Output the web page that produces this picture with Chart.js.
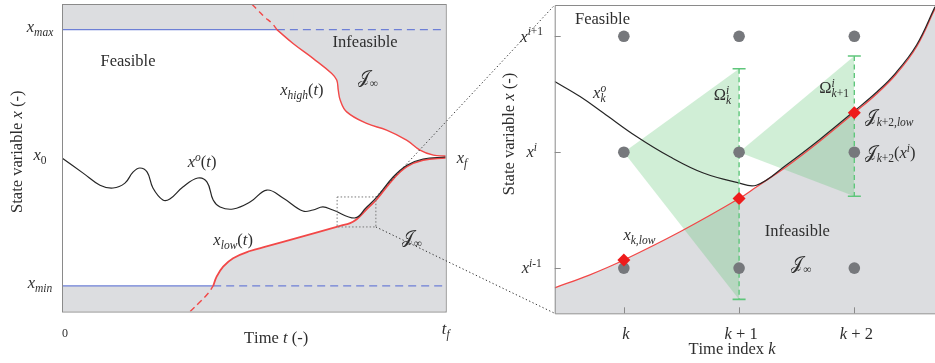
<!DOCTYPE html>
<html>
<head>
<meta charset="utf-8">
<script src="https://cdn.jsdelivr.net/npm/chart.js@4.4.1/dist/chart.umd.min.js"></script>
<style>
  html, body { margin: 0; padding: 0; background: #fff; }
  #wrap { position: relative; width: 935px; height: 363px; overflow: hidden; }
  canvas { position: absolute; left: 0; top: 0; }
</style>
</head>
<body>
<div id="wrap">
  <canvas id="leftChart" width="935" height="363"></canvas>
  <canvas id="rightChart" width="935" height="363"></canvas>
</div>
<script>
// ---- left panel: state x over time t (t_f = 1, x_min = 0, x_max = 1) ----
const X_MAX = 1, X_MIN = 0, X_0 = 0.5, X_F = 0.5;
const optT = [0, 0.055, 0.099, 0.133, 0.164, 0.185, 0.203, 0.222, 0.237, 0.263, 0.281, 0.315, 0.354, 0.378, 0.394, 0.412, 0.446, 0.490, 0.534, 0.576, 0.628, 0.654, 0.680, 0.706, 0.764, 0.792, 0.821, 0.863, 0.899, 0.941, 1.0];
const optX = [0.499, 0.440, 0.393, 0.382, 0.401, 0.444, 0.460, 0.444, 0.382, 0.335, 0.339, 0.386, 0.421, 0.405, 0.335, 0.308, 0.300, 0.327, 0.374, 0.343, 0.292, 0.296, 0.308, 0.296, 0.265, 0.304, 0.347, 0.425, 0.471, 0.495, 0.503];
const highT = [0.560, 0.603, 0.655, 0.703, 0.716, 0.720, 0.725, 0.742, 0.794, 0.846, 0.898, 0.933, 0.968, 1.0];
const highX = [1.0, 0.945, 0.887, 0.829, 0.803, 0.764, 0.725, 0.679, 0.634, 0.608, 0.569, 0.530, 0.510, 0.507];
const highDashT = [0.495, 0.511, 0.529, 0.547, 0.560];
const highDashX = [1.099, 1.075, 1.048, 1.025, 1.0];
const lowT = [0.394, 0.403, 0.420, 0.446, 0.490, 0.533, 0.576, 0.665, 0.725, 0.751, 0.768, 0.792, 0.821, 0.863, 0.899, 0.941, 1.0];
const lowX = [0.0, 0.036, 0.075, 0.108, 0.136, 0.154, 0.172, 0.209, 0.234, 0.245, 0.260, 0.296, 0.339, 0.417, 0.466, 0.491, 0.500];
const lowDashT = [0.334, 0.360, 0.381, 0.394];
const lowDashX = [-0.1, -0.062, -0.029, 0.0];
const zoomBoxT = [0.717, 0.818];
const zoomBoxX = [0.230, 0.347];

// ---- right panel: zoom, time index k and grid states x^i ----
const kTicks = [0, 1, 2];
const kLabels = ['$k$', '$k + 1$', '$k + 2$'];
const iTicks = [-1, 0, 1];
const iLabels = ['$x^{i-1}$', '$x^{i}$', '$x^{i+1}$'];
const lowK = [-0.6, -0.3, 0, 0.5, 1, 1.15, 1.41, 1.7, 2, 2.19, 2.36, 2.54, 2.7];
const lowY = [-1.17, -1.06, -0.93, -0.68, -0.40, -0.30, -0.125, 0.095, 0.34, 0.50, 0.67, 0.91, 1.24];
const optK = [-0.6, -0.38, -0.18, 0.11, 0.40, 0.69, 0.98, 1.15, 1.41, 1.7, 2, 2.19, 2.36, 2.54, 2.7];
const optY = [0.61, 0.48, 0.34, 0.135, -0.04, -0.18, -0.26, -0.285, -0.11, 0.11, 0.355, 0.515, 0.685, 0.925, 1.255];
const lowAtK = [-0.93, -0.40, 0.34];
const omegaK = [1, 2];
const omegaTop = [0.72, 0.83];
const omegaBottom = [-1.27, -0.38];

const GRAY = '#dcdde0', BLUE = '#6d7fd6', RED = '#f24848', BLACK = '#262626';
const GREEN = '#5fc67b', GREEN_FILL = 'rgba(100,200,120,0.3)', DOT = '#76787c', FRAME = '#8a8a8a', TXT = '#2e2e2e';
const SERIF = '"Liberation Serif", "DejaVu Serif", serif';
const FS = 16.5;

const pts = (xs, ys) => xs.map((v, i) => ({ x: v, y: ys[i] }));

// tiny math text: $..$ = math (letters italic), _{..} sub, ^{..} sup
function layoutMath(ctx, str, size) {
  const runs = [];
  let math = false;
  for (let i = 0; i < str.length; ) {
    const c = str[i];
    if (c === '$') { math = !math; i++; continue; }
    if (math && (c === '_' || c === '^')) {
      const e = str.indexOf('}', i + 1);
      runs.push({ t: str.slice(i + 2, e), lvl: c === '_' ? -1 : 1, math: true });
      i = e + 1;
      continue;
    }
    const ch = String.fromCodePoint(str.codePointAt(i));
    runs.push({ t: ch, lvl: 0, math });
    i += ch.length;
  }
  const items = [];
  let x = 0, lastScript = null;
  runs.forEach(r => {
    const fs = r.lvl ? size * 0.7 : size;
    const stacked = r.lvl && lastScript && lastScript.lvl !== r.lvl;
    let cx = stacked ? lastScript.x0 : x;
    const x0 = cx;
    for (const ch of r.t) {
      const it = r.math && /[A-Za-z]/.test(ch);
      const font = (it ? 'italic ' : '') + fs.toFixed(1) + 'px ' + SERIF;
      ctx.font = font;
      items.push({ ch, font, x: cx, dy: r.lvl < 0 ? size * 0.24 : r.lvl > 0 ? -size * 0.38 : 0 });
      cx += ctx.measureText(ch).width;
    }
    if (stacked) { x = Math.max(x, cx); lastScript = null; }
    else { x = cx; lastScript = r.lvl ? { x0, lvl: r.lvl } : null; }
  });
  return { items, width: x };
}

function drawMath(ctx, str, x, y, o = {}) {
  const size = o.size || FS;
  const lay = layoutMath(ctx, str, size);
  const align = o.align || 'center';
  const sx = align === 'left' ? 0 : align === 'right' ? -lay.width : -lay.width / 2;
  ctx.save();
  ctx.translate(x, y);
  if (o.rot) ctx.rotate(o.rot);
  ctx.fillStyle = TXT;
  ctx.textAlign = 'left';
  ctx.textBaseline = 'alphabetic';
  lay.items.forEach(it => { ctx.font = it.font; ctx.fillText(it.ch, sx + it.x, size * 0.32 + it.dy); });
  ctx.restore();
}

const leftNotes = [
  { t: 0.172, x: 0.880, s: 'Feasible' },
  { t: 0.790, x: 0.951, s: 'Infeasible' },
  { t: 0.797, x: 0.814, s: '$𝒥_{∞}$' },
  { t: 0.625, x: 0.767, s: '$x_{high}(t)$' },
  { t: 0.365, x: 0.483, s: '$x^{o}(t)$' },
  { t: 0.446, x: 0.179, s: '$x_{low}(t)$' },
  { t: 0.912, x: 0.187, s: '$𝒥_{∞}$' }
];
const rightNotes = [
  { k: -0.185, y: 1.154, s: 'Feasible' },
  { k: -0.21, y: 0.513, s: '$x^{o}_{k}$' },
  { k: 0.855, y: 0.496, s: '$Ω^{i}_{k}$' },
  { k: 1.825, y: 0.556, s: '$Ω^{i}_{k+1}$' },
  { k: 2.09, y: 0.306, s: '$𝒥_{k+2,low}$', align: 'left' },
  { k: 2.09, y: -0.006, s: '$𝒥_{k+2}(x^{i})$', align: 'left' },
  { k: 0.135, y: -0.716, s: '$x_{k,low}$' },
  { k: 1.505, y: -0.674, s: 'Infeasible' },
  { k: 1.54, y: -0.96, s: '$𝒥_{∞}$' }
];

const leftDecor = {
  id: 'leftDecor',
  afterDraw(chart) {
    const { ctx, chartArea: a, scales: { x, y } } = chart;
    ctx.save();
    ctx.strokeStyle = FRAME;
    ctx.lineWidth = 1;
    ctx.strokeRect(a.left + 0.5, a.top + 0.5, a.right - a.left, a.bottom - a.top);
    ctx.restore();
    [X_MAX, X_0, X_MIN].forEach((v, i) => {
      drawMath(ctx, ['$x_{max}$', '$x_{0}$', '$x_{min}$'][i], a.left - 22, y.getPixelForValue(v) - 3);
    });
    drawMath(ctx, '$x_{f}$', a.right + 11, y.getPixelForValue(X_F), { align: 'left' });
    drawMath(ctx, '0', x.getPixelForValue(0) + 3, a.bottom + 22, { size: 12 });
    drawMath(ctx, '$t_{f}$', x.getPixelForValue(1), a.bottom + 17);
    drawMath(ctx, 'Time $t$ (-)', x.getPixelForValue(0.558), a.bottom + 26);
    drawMath(ctx, 'State variable $x$ (-)', 17, (a.top + a.bottom) / 2 - 6, { rot: -Math.PI / 2 });
    leftNotes.forEach(n => drawMath(ctx, n.s, x.getPixelForValue(n.t), y.getPixelForValue(n.x), { align: n.align }));
  }
};

const curve = { tension: 0.4, pointRadius: 0 };

const leftChart = new Chart(document.getElementById('leftChart'), {
  type: 'line',
  data: {
    datasets: [
      { data: [{ x: 0, y: X_MAX }, { x: highT[1], y: X_MAX }], borderWidth: 0, fill: 'end', backgroundColor: GRAY, order: 20 },
      { data: pts(highT, highX), ...curve, borderWidth: 0, fill: 'end', backgroundColor: GRAY, order: 20 },
      { data: [{ x: 0, y: X_MIN }, { x: lowT[1], y: X_MIN }], borderWidth: 0, fill: 'start', backgroundColor: GRAY, order: 20 },
      { data: pts(lowT, lowX), ...curve, borderWidth: 0, fill: 'start', backgroundColor: GRAY, order: 20 },
      { data: [{ x: 0, y: X_MAX }, { x: highT[0], y: X_MAX }], borderColor: BLUE, borderWidth: 1.3, order: 8 },
      { data: [{ x: highT[0], y: X_MAX }, { x: 1, y: X_MAX }], borderColor: BLUE, borderWidth: 1.3, borderDash: [8, 5], order: 8 },
      { data: [{ x: 0, y: X_MIN }, { x: lowT[0], y: X_MIN }], borderColor: BLUE, borderWidth: 1.3, order: 8 },
      { data: [{ x: lowT[0], y: X_MIN }, { x: 1, y: X_MIN }], borderColor: BLUE, borderWidth: 1.3, borderDash: [8, 5], order: 8 },
      { data: pts(highT, highX), ...curve, borderColor: RED, borderWidth: 1.4, order: 5 },
      { data: pts(highDashT, highDashX), ...curve, borderColor: RED, borderWidth: 1.4, borderDash: [6, 4], order: 5 },
      { data: pts(lowT, lowX), ...curve, borderColor: RED, borderWidth: 1.8, order: 5 },
      { data: pts(lowDashT, lowDashX), ...curve, borderColor: RED, borderWidth: 1.4, borderDash: [6, 4], order: 5 },
      { data: pts(optT, optX), ...curve, borderColor: BLACK, borderWidth: 1.2, order: 2 },
      {
        data: [{ x: zoomBoxT[0], y: zoomBoxX[1] }, { x: zoomBoxT[1], y: zoomBoxX[1] }, { x: zoomBoxT[1], y: zoomBoxX[0] },
               { x: zoomBoxT[0], y: zoomBoxX[0] }, { x: zoomBoxT[0], y: zoomBoxX[1] }],
        borderColor: '#777', borderWidth: 1, borderDash: [1.5, 2], pointRadius: 0, order: 1
      }
    ]
  },
  options: {
    responsive: false,
    animation: false,
    events: [],
    layout: { autoPadding: false, padding: { left: 62, top: 4, right: 935 - 445.7, bottom: 363 - 311.5 } },
    scales: {
      x: { type: 'linear', min: 0, max: 1, display: false },
      y: { type: 'linear', min: -0.1, max: 1.1, display: false }
    },
    elements: { point: { radius: 0 }, line: { tension: 0 } },
    plugins: { legend: { display: false }, tooltip: { enabled: false } }
  },
  plugins: [leftDecor]
});

const rightDecor = {
  id: 'rightDecor',
  afterDraw(chart) {
    const { ctx, chartArea: a, scales: { x, y } } = chart;
    ctx.save();
    ctx.strokeStyle = FRAME;
    ctx.lineWidth = 1;
    ctx.beginPath();
    ctx.moveTo(a.right, a.top + 0.5);
    ctx.lineTo(a.left + 0.5, a.top + 0.5);
    ctx.lineTo(a.left + 0.5, a.bottom + 0.5);
    ctx.lineTo(a.right, a.bottom + 0.5);
    kTicks.forEach(v => { const px = Math.round(x.getPixelForValue(v)) + 0.5; ctx.moveTo(px, a.bottom); ctx.lineTo(px, a.bottom - 6); });
    iTicks.forEach(v => { const py = Math.round(y.getPixelForValue(v)) + 0.5; ctx.moveTo(a.left, py); ctx.lineTo(a.left + 6, py); });
    ctx.stroke();
    ctx.restore();
    kTicks.forEach((v, i) => drawMath(ctx, kLabels[i], x.getPixelForValue(v) + 2, a.bottom + 20));
    iTicks.forEach((v, i) => drawMath(ctx, iLabels[i], a.left - 23, y.getPixelForValue(v)));
    drawMath(ctx, 'Time index $k$', x.getPixelForValue(0.938), a.bottom + 35);
    drawMath(ctx, 'State variable $x$ (-)', 509, 134, { rot: -Math.PI / 2 });
    rightNotes.forEach(n => drawMath(ctx, n.s, x.getPixelForValue(n.k), y.getPixelForValue(n.y), { align: n.align }));

    // dotted connectors from the zoom box to the right panel
    const lx = leftChart.scales.x, ly = leftChart.scales.y;
    const bx = lx.getPixelForValue(zoomBoxT[1]);
    ctx.save();
    ctx.strokeStyle = '#333';
    ctx.lineWidth = 1;
    ctx.setLineDash([1.3, 2.4]);
    ctx.beginPath();
    ctx.moveTo(bx, ly.getPixelForValue(zoomBoxX[1]));
    ctx.lineTo(a.left, a.top);
    ctx.moveTo(bx, ly.getPixelForValue(zoomBoxX[0]));
    ctx.lineTo(a.left, a.bottom);
    ctx.stroke();
    ctx.restore();
  }
};

const rightSets = [
  { data: pts(lowK, lowY), ...curve, borderWidth: 0, fill: 'start', backgroundColor: GRAY, order: 20 }
];
omegaK.forEach((k, n) => {
  rightSets.push({ data: [{ x: k - 1, y: 0 }, { x: k, y: omegaTop[n] }], borderWidth: 0, fill: '+1', backgroundColor: GREEN_FILL, order: 15 });
  rightSets.push({ data: [{ x: k - 1, y: 0 }, { x: k, y: omegaBottom[n] }], borderWidth: 0, fill: false, order: 15 });
});
rightSets.push({ data: pts(lowK, lowY), ...curve, borderColor: RED, borderWidth: 1.3, order: 6 });
rightSets.push({ data: pts(optK, optY), ...curve, borderColor: BLACK, borderWidth: 1.2, order: 5 });
omegaK.forEach((k, n) => {
  rightSets.push({
    data: [{ x: k, y: omegaTop[n] }, { x: k, y: omegaBottom[n] }],
    borderColor: GREEN, borderWidth: 1.4, borderDash: [5, 3.5],
    pointStyle: 'line', pointRadius: 6.5, pointBorderColor: GREEN, pointBorderWidth: 1.6, order: 4
  });
});
const grid = [];
kTicks.forEach(k => iTicks.forEach(i => grid.push({ x: k, y: i })));
rightSets.push({ data: grid, showLine: false, pointRadius: 5.8, pointBackgroundColor: DOT, pointBorderWidth: 0, order: 3 });
rightSets.push({ data: pts(kTicks, lowAtK), showLine: false, pointStyle: 'rectRot', pointRadius: 6.5, pointBackgroundColor: '#ee1c1c', pointBorderWidth: 0, order: 2 });

const rightChart = new Chart(document.getElementById('rightChart'), {
  type: 'line',
  data: { datasets: rightSets },
  options: {
    responsive: false,
    animation: false,
    events: [],
    layout: { autoPadding: false, padding: { left: 554.7, top: 5, right: 0, bottom: 363 - 313.3 } },
    scales: {
      x: { type: 'linear', min: -0.6, max: 2.7, display: false },
      y: { type: 'linear', min: -1.39, max: 1.27, display: false }
    },
    elements: { point: { radius: 0 }, line: { tension: 0 } },
    plugins: { legend: { display: false }, tooltip: { enabled: false } }
  },
  plugins: [rightDecor]
});
</script>
</body>
</html>
